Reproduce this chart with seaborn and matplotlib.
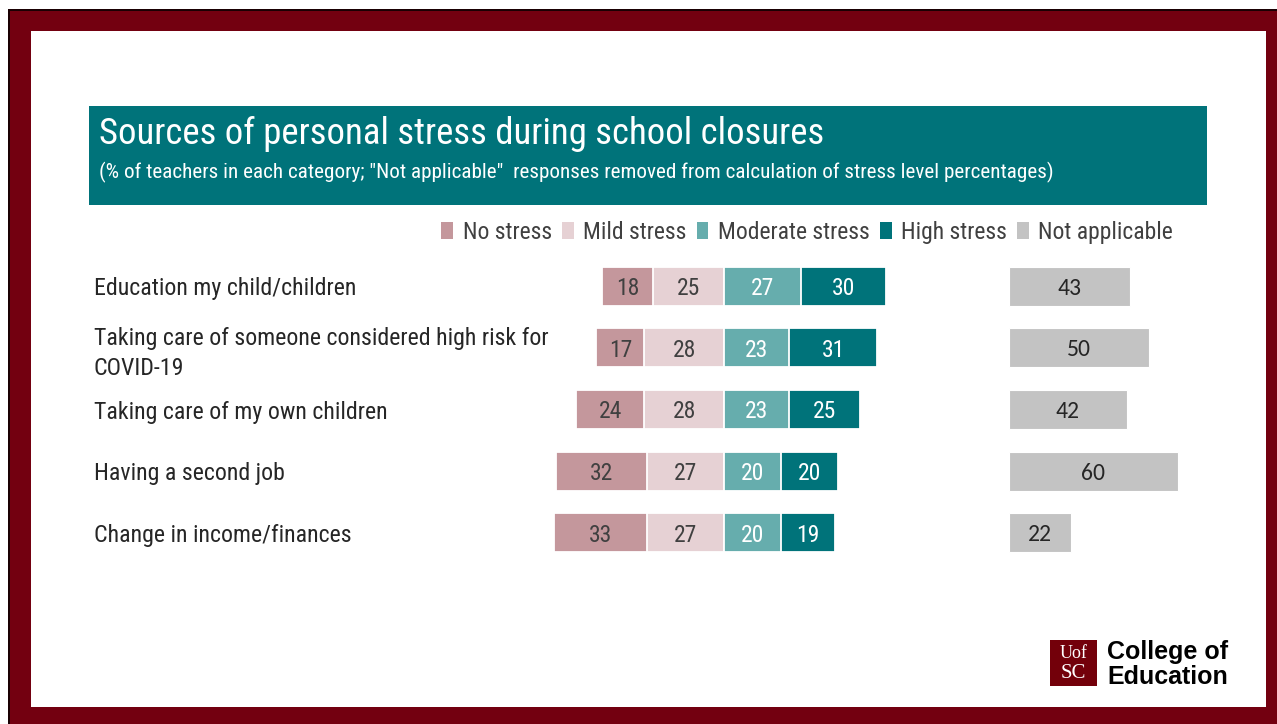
import matplotlib
matplotlib.use("Agg")
import matplotlib.pyplot as plt
import matplotlib.transforms as mtransforms
from matplotlib.patches import Rectangle, Patch
import seaborn as sns
import pandas as pd

# ---- data -------------------------------------------------------------
sources = [
    "Education my child/children",
    "Taking care of someone considered high risk for\nCOVID-19",
    "Taking care of my own children",
    "Having a second job",
    "Change in income/finances",
]
no_stress = [18, 17, 24, 32, 33]
mild_stress = [25, 28, 28, 27, 27]
moderate_stress = [27, 23, 23, 20, 20]
high_stress = [30, 31, 25, 20, 19]
not_applicable = [43, 50, 42, 60, 22]
levels = ["No stress", "Mild stress", "Moderate stress", "High stress", "Not applicable"]

title = "Sources of personal stress during school closures"
subtitle = ('(% of teachers in each category; "Not applicable"  responses removed '
            'from calculation of stress level percentages)')

# ---- style ------------------------------------------------------------
colors = {
    "No stress": "#C4979C",
    "Mild stress": "#E6D1D4",
    "Moderate stress": "#66ADAD",
    "High stress": "#00737A",
    "Not applicable": "#C3C3C3",
}
TEAL = "#00737A"
GARNET = "#73000A"
TEXT_DARK = "#404040"

sns.set_theme(style="white")
plt.rcParams["font.family"] = ["Roboto Condensed", "DejaVu Sans"]

W, H = 1277, 724
fig = plt.figure(figsize=(W / 100, H / 100), dpi=100)
fig.patch.set_facecolor("white")


def fx(x):
    return x / W


def fy(y):
    return 1 - y / H


def frect(x0, y0, x1, y1, color, z=0):
    fig.patches.append(Rectangle((fx(x0), fy(y1)), fx(x1) - fx(x0), fy(y0) - fy(y1),
                                 transform=fig.transFigure, facecolor=color,
                                 edgecolor="none", zorder=z))


# slide frame
frect(8, 9, W, H, "#1a0003", -3)
frect(10, 11, W, H, "#730010", -2)
frect(31, 31, 1266, 707, "white", -1)

# title banner
frect(89, 106, 1207, 205, TEAL, 1)
fig.text(fx(99), fy(134), title, color="white", fontsize=26.5, va="center", ha="left")
fig.text(fx(99), fy(172), subtitle, color="white", fontsize=15.2, va="center", ha="left")

# ---- diverging stress bars ------------------------------------------
SCALE = 2.84           # pixels per percentage point
CENTER = 724
XL = 66
ax = fig.add_axes([fx(CENTER - XL * SCALE), fy(563.5), fx(2 * XL * SCALE), fy(255.5) - fy(563.5)])
ax.set_zorder(5)
ax.patch.set_alpha(0)

df = pd.DataFrame({
    "source": sources,
    "no": no_stress,
    "mild": mild_stress,
    "moderate": moderate_stress,
    "high": high_stress,
    "na": not_applicable,
})
df["left_total"] = -(df["no"] + df["mild"])
df["left_mild"] = -df["mild"]
df["right_total"] = df["moderate"] + df["high"]

bar_kw = dict(orient="h", width=0.63, edgecolor="white", linewidth=1.3,
              errorbar=None, ax=ax, order=sources, saturation=1)
sns.barplot(data=df, x="left_total", y="source", color=colors["No stress"], **bar_kw)
sns.barplot(data=df, x="left_mild", y="source", color=colors["Mild stress"], **bar_kw)
sns.barplot(data=df, x="right_total", y="source", color=colors["High stress"], **bar_kw)
sns.barplot(data=df, x="moderate", y="source", color=colors["Moderate stress"], **bar_kw)
ax.set_xlim(-XL, XL)
ax.set_ylim(4.5, -0.5)
ax.set_axis_off()

num_kw = dict(ha="center", va="center_baseline", fontsize=17)
for i, r in df.iterrows():
    ax.text(-(r["mild"] + r["no"] / 2), i, f"{r['no']}", color=TEXT_DARK, **num_kw)
    ax.text(-r["mild"] / 2, i, f"{r['mild']}", color=TEXT_DARK, **num_kw)
    ax.text(r["moderate"] / 2, i, f"{r['moderate']}", color="white", **num_kw)
    ax.text(r["moderate"] + r["high"] / 2, i, f"{r['high']}", color="white", **num_kw)

# category labels
trans = mtransforms.blended_transform_factory(fig.transFigure, ax.transData)
for i, s in enumerate(sources):
    ax.text(fx(94), i, s, transform=trans, ha="left", va="center_baseline", color="#262626",
            fontsize=17.2, linespacing=1.38, clip_on=False)

# ---- not applicable bars ---------------------------------------------
NA_X = 1009
NA_XL = 70
ax2 = fig.add_axes([fx(NA_X), fy(563.5), fx(NA_XL * 2.81), fy(255.5) - fy(563.5)])
ax2.set_zorder(5)
ax2.patch.set_alpha(0)
sns.barplot(data=df, x="na", y="source", color=colors["Not applicable"], saturation=1,
            orient="h", width=0.63, edgecolor="white", linewidth=0.8,
            errorbar=None, ax=ax2, order=sources)
ax2.set_xlim(0, NA_XL)
ax2.set_ylim(4.5, -0.5)
ax2.set_axis_off()
for i, v in enumerate(df["na"]):
    ax2.text(v / 2, i, f"{v}", ha="center", va="center_baseline", color="#262626",
             fontsize=17, family=["Carlito", "Lato", "DejaVu Sans"])

# ---- legend -------------------------------------------------------------
handles = [Patch(facecolor=colors[l], edgecolor="none", label=l) for l in levels]
leg = fig.legend(handles=handles, loc="center right", bbox_to_anchor=(fx(1173), fy(232)),
                 ncol=5, frameon=False, fontsize=17, handlelength=0.5, handleheight=0.7,
                 handletextpad=0.4, columnspacing=0.43, borderaxespad=0, borderpad=0)
for t in leg.get_texts():
    t.set_color(TEXT_DARK)

# ---- logo -----------------------------------------------------------------
frect(1050, 640, 1097, 686, GARNET, 2)
serif = ["Liberation Serif", "DejaVu Serif"]
fig.text(fx(1073.5), fy(653), "Uof", color="white", fontsize=13, ha="center", va="center",
         family=serif, zorder=3)
fig.text(fx(1073.5), fy(673), "SC", color="white", fontsize=15, ha="center", va="center",
         family=serif, zorder=3)
logo_sans = ["Liberation Sans", "DejaVu Sans"]
fig.text(fx(1107), fy(652), "College of", color="black", fontsize=18, fontweight="bold",
         ha="left", va="center", family=logo_sans)
fig.text(fx(1107), fy(677), "Education", color="black", fontsize=18, fontweight="bold",
         ha="left", va="center", family=logo_sans)

fig.savefig("out.png", dpi=100)
